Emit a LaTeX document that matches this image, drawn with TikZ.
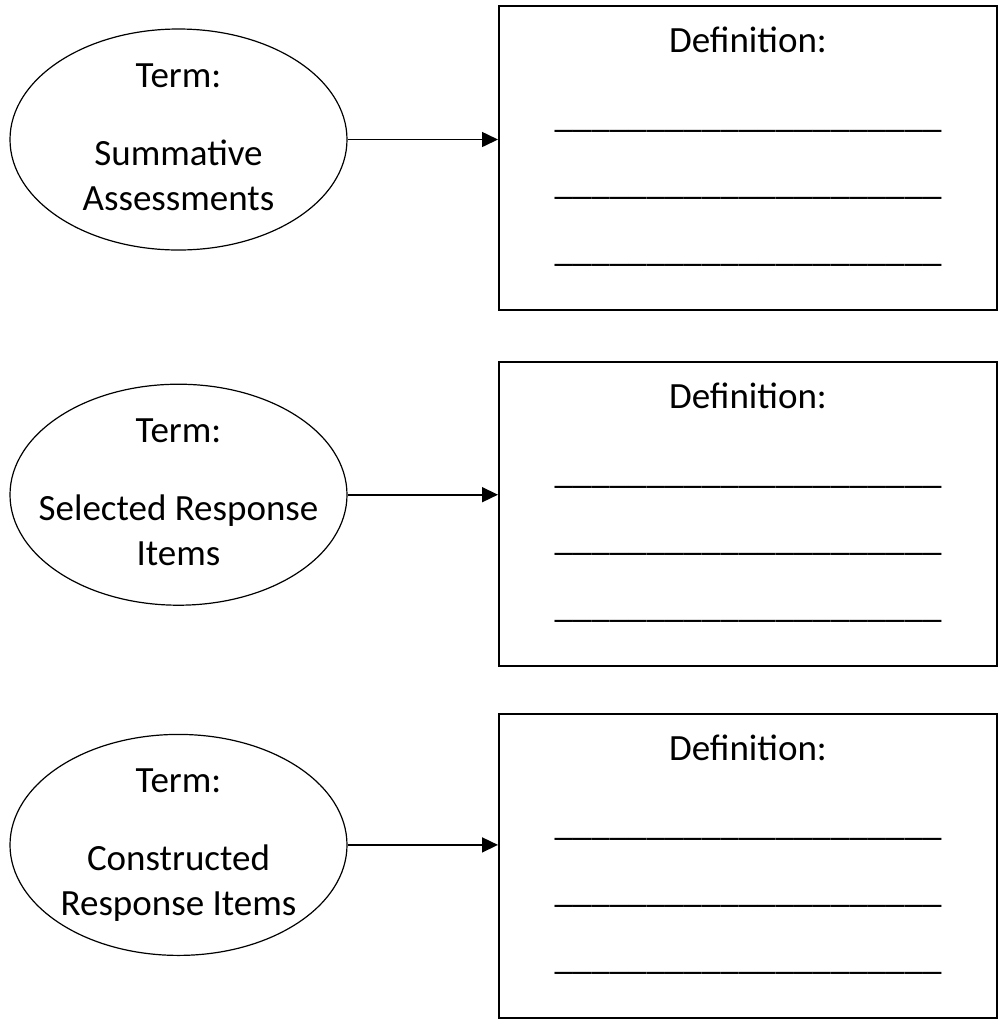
\documentclass[tikz,border=0pt]{standalone}
\usepackage{fontspec}
\setmainfont{Carlito}
\usetikzlibrary{positioning, arrows.meta, shapes.geometric}

\newcommand{\blankline}{\_\_\_\_\_\_\_\_\_\_\_\_\_\_\_\_\_\_\_\_\_}

\begin{document}
\begin{tikzpicture}[
        term/.style={ellipse, draw, line width=0.6pt, minimum width=168.5pt, minimum height=110.5pt, inner xsep=-14pt, inner ysep=-8pt, align=center, font=\fontsize{18.5}{22.5}\selectfont},
        defbox/.style={rectangle, draw, line width=1pt, minimum width=249pt, minimum height=152pt, inner sep=0pt},
        deftext/.style={inner sep=0pt, align=center, font=\fontsize{18.5}{22.5}\selectfont},
        arrow/.style={-{Triangle[length=8pt, width=7.5pt]}, line width=0.8pt},
    ]
        \useasboundingbox (0,0) rectangle (499pt,-512.5pt);

        % ====== 左列：术语（椭圆） ======
        \node[term] (summ) at (89.25pt,-69.75pt) {\strut Term:\\[16.5pt] Summative\\Assessments\strut};
        \node[term, below=66.5pt of summ] (select)    {\strut Term:\\[16.5pt] Selected Response\\Items\strut};
        \node[term, below=64pt of select] (construct) {\strut Term:\\[16.5pt] Constructed\\Response Items\strut};

        % ====== 右列：定义框 ======
        \node[defbox] (summdef) at (374pt,-79pt) {};
        \node[defbox, below=25pt of summdef]  (selectdef)    {};
        \node[defbox, below=23pt of selectdef] (constructdef) {};

        % 框内文字（紧贴框顶部）
        \node[deftext, below=7.75pt of summdef.north] (summtext)
            {\strut Definition:\\[15pt] \blankline\\[11pt] \blankline\\[11pt] \blankline};
        \node[deftext, below=7.75pt of selectdef.north] (selecttext)
            {\strut Definition:\\[15pt] \blankline\\[11pt] \blankline\\[11pt] \blankline};
        \node[deftext, below=7.75pt of constructdef.north] (constructtext)
            {\strut Definition:\\[15pt] \blankline\\[11pt] \blankline\\[11pt] \blankline};

        % ====== 箭头：术语 → 定义 ======
        \draw[arrow] (summ.east)      -- (summ.east -| summdef.west);
        \draw[arrow] (select.east)    -- (select.east -| selectdef.west);
        \draw[arrow] (construct.east) -- (construct.east -| constructdef.west);
    \end{tikzpicture}
\end{document}
